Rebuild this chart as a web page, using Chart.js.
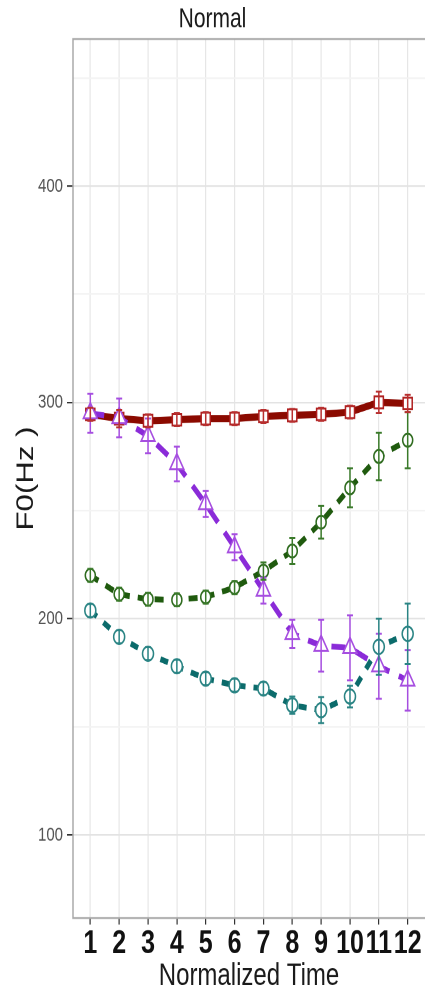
<!DOCTYPE html>
<html>
<head>
<meta charset="utf-8">
<title>Normal</title>
<script src="https://cdn.jsdelivr.net/npm/chart.js@4.4.0/dist/chart.umd.min.js"></script>
<style>
  html, body { margin: 0; padding: 0; background: #fff; }
  body { width: 425px; height: 996px; overflow: hidden; }
  /* the reference is a vertically stretched plot, so stretch the canvas the same way */
  #wrap { width: 425px; height: 766px; transform: scaleY(1.3003); transform-origin: 0 0; }
</style>
</head>
<body>
<div id="wrap"><canvas id="chart" width="425" height="766"></canvas></div>
<script>
// normalized time points
const times = [1, 2, 3, 4, 5, 6, 7, 8, 9, 10, 11, 12];
const yTicks = [100, 150, 200, 250, 300, 350, 400, 450];

// F0 means and error bar half-widths (Hz)
const redMean = [294.5, 292.5, 291.5, 292, 292.5, 292.5, 293.5, 294, 294.5, 295.5, 300, 299.5];
const redErr = [3, 4, 3, 3, 3, 3, 3, 3, 3, 3, 5, 4];
const purpleMean = [295, 292.8, 284.5, 271.5, 253, 233, 213, 193, 187.5, 186.5, 178, 171.5];
const purpleErr = [9, 9, 8, 8, 6, 6, 6, 6.5, 12, 15, 15, 14];
const greenMean = [220, 211.3, 209, 208.7, 210, 214.4, 222, 231.3, 244.6, 260.5, 275, 282.5];
const greenErr = [3, 3, 3, 3, 3, 3, 4, 6, 7.5, 9, 11, 13];
const tealMean = [203.8, 191.6, 183.8, 178, 172.3, 169.2, 167.7, 160, 157.7, 164, 187, 193];
const tealErr = [3, 3, 3, 3, 3, 3, 3, 4, 6, 5, 13, 14];

Chart.defaults.font.family = "'Liberation Sans', Arial, sans-serif";

const toPoints = (values) => values.map((v, i) => ({ x: times[i], y: v }));

// grey frame around the panel (right side runs off the canvas, like the cropped original)
const panelBorder = {
  id: 'panelBorder',
  beforeDatasetsDraw(chart) {
    const { ctx, chartArea } = chart;
    ctx.save();
    ctx.strokeStyle = '#a9a9a9';
    ctx.lineWidth = 1.5;
    ctx.strokeRect(chartArea.left, chartArea.top, chartArea.right - chartArea.left + 4, chartArea.bottom - chartArea.top);
    ctx.restore();
  }
};

// vertical error bars with small whiskers
const errorBars = {
  id: 'errorBars',
  afterDatasetsDraw(chart) {
    const { ctx } = chart;
    const xs = chart.scales.x;
    const ys = chart.scales.y;
    chart.data.datasets.forEach(ds => {
      if (!ds.errors) return;
      ctx.save();
      ctx.strokeStyle = ds.errorColor;
      ctx.lineWidth = 1.5;
      ds.data.forEach((p, i) => {
        const x = xs.getPixelForValue(p.x);
        const top = ys.getPixelForValue(p.y + ds.errors[i]);
        const bottom = ys.getPixelForValue(p.y - ds.errors[i]);
        ctx.beginPath();
        ctx.moveTo(x, top);
        ctx.lineTo(x, bottom);
        ctx.moveTo(x - 3, top);
        ctx.lineTo(x + 3, top);
        ctx.moveTo(x - 3, bottom);
        ctx.lineTo(x + 3, bottom);
        ctx.stroke();
      });
      ctx.restore();
    });
  }
};

new Chart(document.getElementById('chart'), {
  type: 'line',
  data: {
    datasets: [
      {
        data: toPoints(purpleMean),
        errors: purpleErr,
        errorColor: '#a64ee0',
        borderColor: '#8a2bd8',
        borderWidth: 4.5,
        borderDash: [14, 10],
        pointStyle: 'triangle',
        pointRadius: 8,
        pointBorderColor: '#a64ee0',
        pointBackgroundColor: '#fff',
        pointBorderWidth: 1.5,
      },
      {
        data: toPoints(tealMean),
        errors: tealErr,
        errorColor: '#2a8484',
        borderColor: '#0b6b6b',
        borderWidth: 4.5,
        borderDash: [8, 8],
        pointStyle: 'circle',
        pointRadius: 5.5,
        pointBorderColor: '#2a8484',
        pointBackgroundColor: '#fff',
        pointBorderWidth: 1.5,
      },
      {
        data: toPoints(greenMean),
        errors: greenErr,
        errorColor: '#3a7a2a',
        borderColor: '#1f5a0e',
        borderWidth: 4.5,
        borderDash: [9, 8],
        pointStyle: 'circle',
        pointRadius: 5,
        pointBorderColor: '#2e6b1e',
        pointBackgroundColor: '#fff',
        pointBorderWidth: 1.5,
      },
      {
        data: toPoints(redMean),
        errors: redErr,
        errorColor: '#b83030',
        borderColor: '#8b0a00',
        borderWidth: 5.5,
        pointStyle: 'rect',
        pointRadius: 6.4,
        pointBorderColor: '#b02020',
        pointBackgroundColor: '#fff',
        pointBorderWidth: 1.5,
      },
    ],
  },
  options: {
    responsive: false,
    animation: false,
    devicePixelRatio: 2,
    layout: { padding: 0, autoPadding: false },
    elements: { line: { tension: 0 } },
    plugins: {
      legend: { display: false },
      tooltip: { enabled: false },
      title: {
        display: true,
        text: 'Normal',
        color: '#1a1a1a',
        font: { size: 21, weight: 'normal' },
        padding: { top: 2.5, bottom: 2.3 },
      },
    },
    scales: {
      x: {
        type: 'linear',
        min: 0.4,
        max: 12.6,
        afterBuildTicks: (scale) => { scale.ticks = times.map(v => ({ value: v })); },
        afterFit: (scale) => {
          scale.height = 60;
          scale.paddingLeft = 0;
          scale.paddingRight = 0;
        },
        ticks: {
          autoSkip: false,
          maxRotation: 0,
          padding: 0,
          color: '#111',
          font: { size: 25, weight: 'bold' },
          callback: (v) => String(v),
        },
        grid: { color: '#e6e6e6', lineWidth: 1.2, tickColor: '#333', tickLength: 5 },
        border: { display: false },
        title: {
          display: true,
          text: 'Normalized Time',
          color: '#1a1a1a',
          font: { size: 24 },
          padding: { top: 0, bottom: 0.5 },
        },
      },
      y: {
        min: 61.6,
        max: 468,
        afterBuildTicks: (scale) => { scale.ticks = yTicks.map(v => ({ value: v })); },
        afterFit: (scale) => {
          scale.width = 73;
          scale.paddingTop = 0;
          scale.paddingBottom = 0;
        },
        ticks: {
          padding: 4,
          color: '#555',
          font: { size: 15 },
          callback: (v) => (v % 100 === 0 ? String(v) : ''),
        },
        grid: {
          color: (c) => (c.tick && c.tick.value % 100 === 0 ? '#e3e3e3' : '#f3f3f3'),
          tickColor: (c) => (c.tick && c.tick.value % 100 === 0 ? '#333' : 'rgba(0,0,0,0)'),
          lineWidth: 1.2,
          tickLength: 6,
        },
        border: { display: false },
        title: {
          display: true,
          text: 'F0(Hz )',
          color: '#1a1a1a',
          font: { size: 24 },
          padding: { top: 12, bottom: 0 },
        },
      },
    },
  },
  plugins: [panelBorder, errorBars],
});
</script>
</body>
</html>
